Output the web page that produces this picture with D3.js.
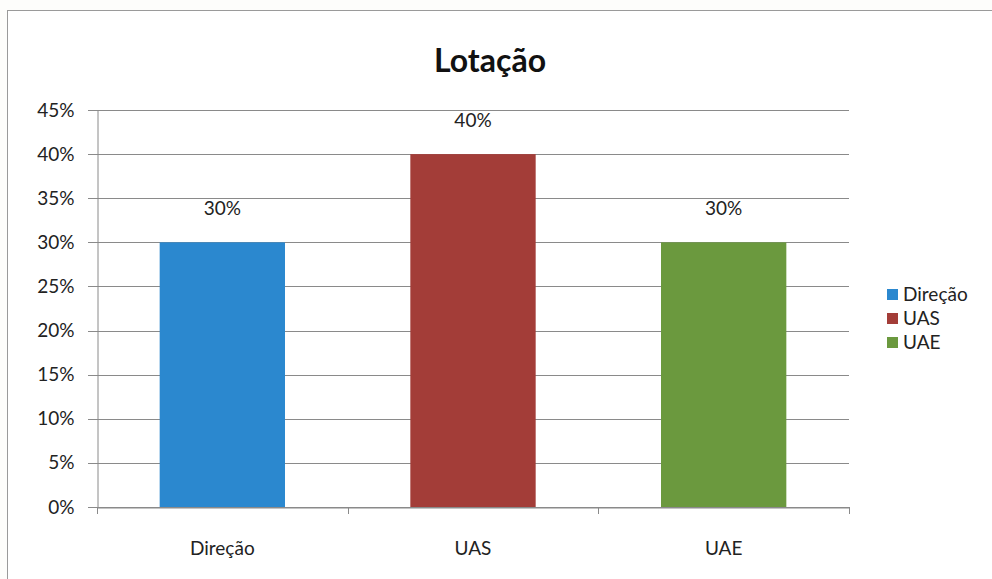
<!DOCTYPE html>
<html><head><meta charset="utf-8">
<script src="https://cdn.jsdelivr.net/npm/d3@7"></script>
<style>body{margin:0;background:#fff;} svg{display:block;} svg text{font-family:Lato,"Open Sans",sans-serif;}</style>
</head><body>
<svg id="c" width="992" height="579"></svg>
<script>
const categories = ["Direção", "UAS", "UAE"];
const values = [0.30, 0.40, 0.30];
const colors = ["#2b88cf", "#a33d38", "#6b993e"];
const yTicks = [0, 0.05, 0.10, 0.15, 0.20, 0.25, 0.30, 0.35, 0.40, 0.45];
const title = "Lotação";

const FONT = 'Lato, "Open Sans", sans-serif';
const svg = d3.select("#c");
svg.append("rect").attr("x", 0).attr("y", 0).attr("width", 992).attr("height", 579).attr("fill", "#fdfdfb");
svg.append("rect").attr("x", 7.5).attr("y", 10.5).attr("width", 990).attr("height", 580)
  .attr("fill", "#fff").attr("stroke", "#9a9a9a").attr("stroke-width", 1);

const L = 97, R = 849, T = 110, B = 507;
const x = d3.scaleBand().domain(categories).range([L, R]).paddingInner(0.5).paddingOuter(0.25);
const xb = d3.scaleBand().domain(categories).range([L, R]);
const y = d3.scaleLinear().domain([0, 0.45]).range([B, T]);

// gridlines
svg.append("g").selectAll("line").data(yTicks).join("line")
  .attr("x1", L - 9).attr("x2", R).attr("y1", d => Math.round(y(d)) + 0.5).attr("y2", d => Math.round(y(d)) + 0.5)
  .attr("stroke", "#8a8a8a").attr("stroke-width", 1);

// y axis
const yAxis = d3.axisLeft(y).tickValues(yTicks).tickFormat(d3.format(".0%")).tickSize(0).tickPadding(23);
const gy = svg.append("g").attr("transform", `translate(${L + 0.5},0)`).call(yAxis).attr("font-family", FONT);
gy.select(".domain").attr("stroke", "#8a8a8a");
gy.selectAll("text").attr("font-size", 19).attr("fill", "#222");

// bars
svg.append("g").selectAll("rect").data(values).join("rect")
  .attr("x", (d, i) => x(categories[i])).attr("width", x.bandwidth())
  .attr("y", d => y(d)).attr("height", d => B - y(d))
  .attr("fill", (d, i) => colors[i]);

// x axis
const xAxis = d3.axisBottom(xb).tickSize(0).tickPadding(34);
const gx = svg.append("g").attr("transform", `translate(0,${B + 0.5})`).call(xAxis).attr("font-family", FONT);
gx.select(".domain").attr("stroke", "#8a8a8a");
gx.selectAll("text").attr("font-size", 19).attr("fill", "#222");
svg.append("g").selectAll("line").data([L, ...categories.map(c => xb(c) + xb.bandwidth())]).join("line")
  .attr("x1", d => Math.round(d) + 0.5).attr("x2", d => Math.round(d) + 0.5)
  .attr("y1", B).attr("y2", B + 7).attr("stroke", "#8a8a8a");

// labels
svg.append("g").selectAll("text").data(values).join("text")
  .attr("x", (d, i) => x(categories[i]) + x.bandwidth() / 2)
  .attr("y", d => y(d) - 27)
  .attr("text-anchor", "middle").attr("font-size", 19).attr("fill", "#222")
  .text(d => d3.format(".0%")(d));

// title
svg.append("text").attr("x", 490).attr("y", 72).attr("text-anchor", "middle")
  .attr("font-size", 32).attr("font-weight", "bold").attr("fill", "#111").text(title);

// legend
const lg = svg.append("g").selectAll("g").data(categories).join("g")
  .attr("transform", (d, i) => `translate(887,${295 + i * 24})`);
lg.append("rect").attr("x", 0).attr("y", -6).attr("width", 11).attr("height", 11).attr("fill", (d, i) => colors[i]);
lg.append("text").attr("x", 16).attr("y", 6).attr("font-size", 19).attr("fill", "#222").text(d => d);
</script>
</body></html>
